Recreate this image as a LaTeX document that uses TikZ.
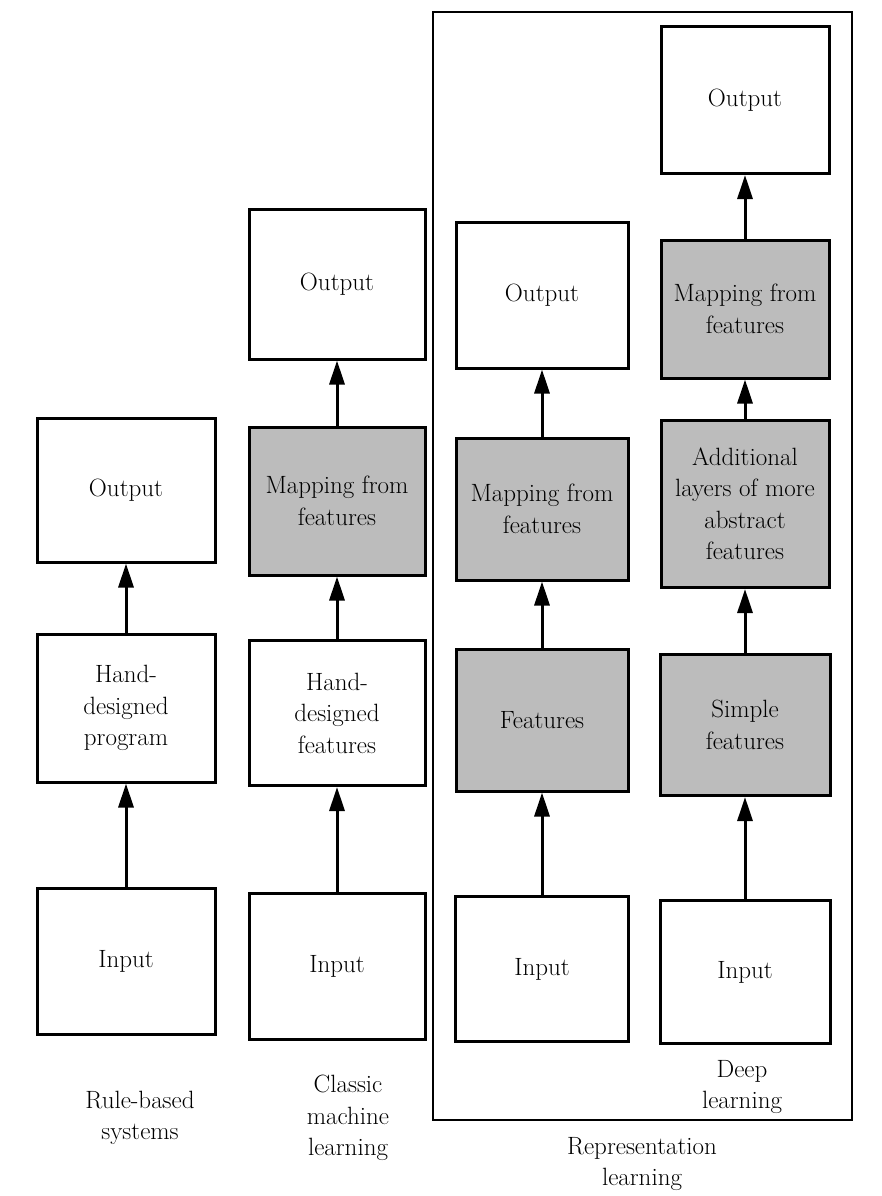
\documentclass[tikz,border=0pt]{standalone}
\usetikzlibrary{arrows.meta}
\definecolor{featgray}{RGB}{188,188,188}
\begin{document}
\begin{tikzpicture}[x=1pt,y=-1pt,
  every node/.style={font=\fontsize{25}{31.5}\selectfont, align=center},
  blk/.style={draw, line width=3pt, inner sep=0pt, minimum width=#1},
  blk/.default=176pt,
  plainbox/.style={blk=#1, fill=white},
  grayboxA/.style={blk=#1, fill=featgray},
  up/.style={line width=3pt, -{Triangle[length=24pt,width=15pt]}},
  caption/.style={inner sep=0pt}
]
\useasboundingbox (0,0) rectangle (881,1196);

% outer frame for the representation-learning group
\node[draw, line width=2.5pt, minimum width=419pt, minimum height=1108pt, inner sep=0pt]
  (replearn) at (642.5,566) {};

% rule-based systems
\node[plainbox=178pt, minimum height=146pt] (in1) at (126,961) {Input};
\node[plainbox=178pt, minimum height=148pt] (prog1) at (126,708) {Hand-\\designed\\program};
\node[plainbox=178pt, minimum height=144pt] (out1) at (126,490) {Output};
\draw[up] (in1.north) -- (prog1.south);
\draw[up] (prog1.north) -- (out1.south);
\node[caption] (cap1) at (140,1118) {Rule-based\\systems};

% classic machine learning
\node[plainbox=176pt, minimum height=146pt] (in2) at (337,966) {Input};
\node[plainbox=176pt, minimum height=145pt] (hf2) at (337,713) {Hand-\\designed\\features};
\node[grayboxA=176pt, minimum height=148pt] (map2) at (337,501) {Mapping from\\features};
\node[plainbox=176pt, minimum height=150pt] (out2) at (337,284) {Output};
\draw[up] (in2.north) -- (hf2.south);
\draw[up] (hf2.north) -- (map2.south);
\draw[up] (map2.north) -- (out2.south);
\node[caption] (cap2) at (348,1118) {Classic\\machine\\learning};

% representation learning
\node[plainbox=173pt, minimum height=145pt] (in3) at (542,969) {Input};
\node[grayboxA=172pt, minimum height=142pt] (feat3) at (542,720) {Features};
\node[grayboxA=172pt, minimum height=142pt] (map3) at (542,509) {Mapping from\\features};
\node[plainbox=172pt, minimum height=146pt] (out3) at (542,295) {Output};
\draw[up] (in3.north) -- (feat3.south);
\draw[up] (feat3.north) -- (map3.south);
\draw[up] (map3.north) -- (out3.south);

% deep learning
\node[plainbox=170pt, minimum height=143pt] (in4) at (745,972) {Input};
\node[grayboxA=170pt, minimum height=141pt] (simp4) at (745,725) {Simple\\features};
\node[grayboxA=168pt, minimum height=167pt] (abs4) at (745,504) {Additional\\layers of more\\abstract\\features};
\node[grayboxA=168pt, minimum height=138pt] (map4) at (745,309) {Mapping from\\features};
\node[plainbox=168pt, minimum height=147pt] (out4) at (745,100) {Output};
\draw[up] (in4.north) -- (simp4.south);
\draw[up] (simp4.north) -- (abs4.south);
\draw[up] (abs4.north) -- (map4.south);
\draw[up] (map4.north) -- (out4.south);
\node[caption] (cap4) at (742,1087) {Deep\\learning};

\node[caption] (cap3) at (642,1164) {Representation\\learning};
\end{tikzpicture}
\end{document}
